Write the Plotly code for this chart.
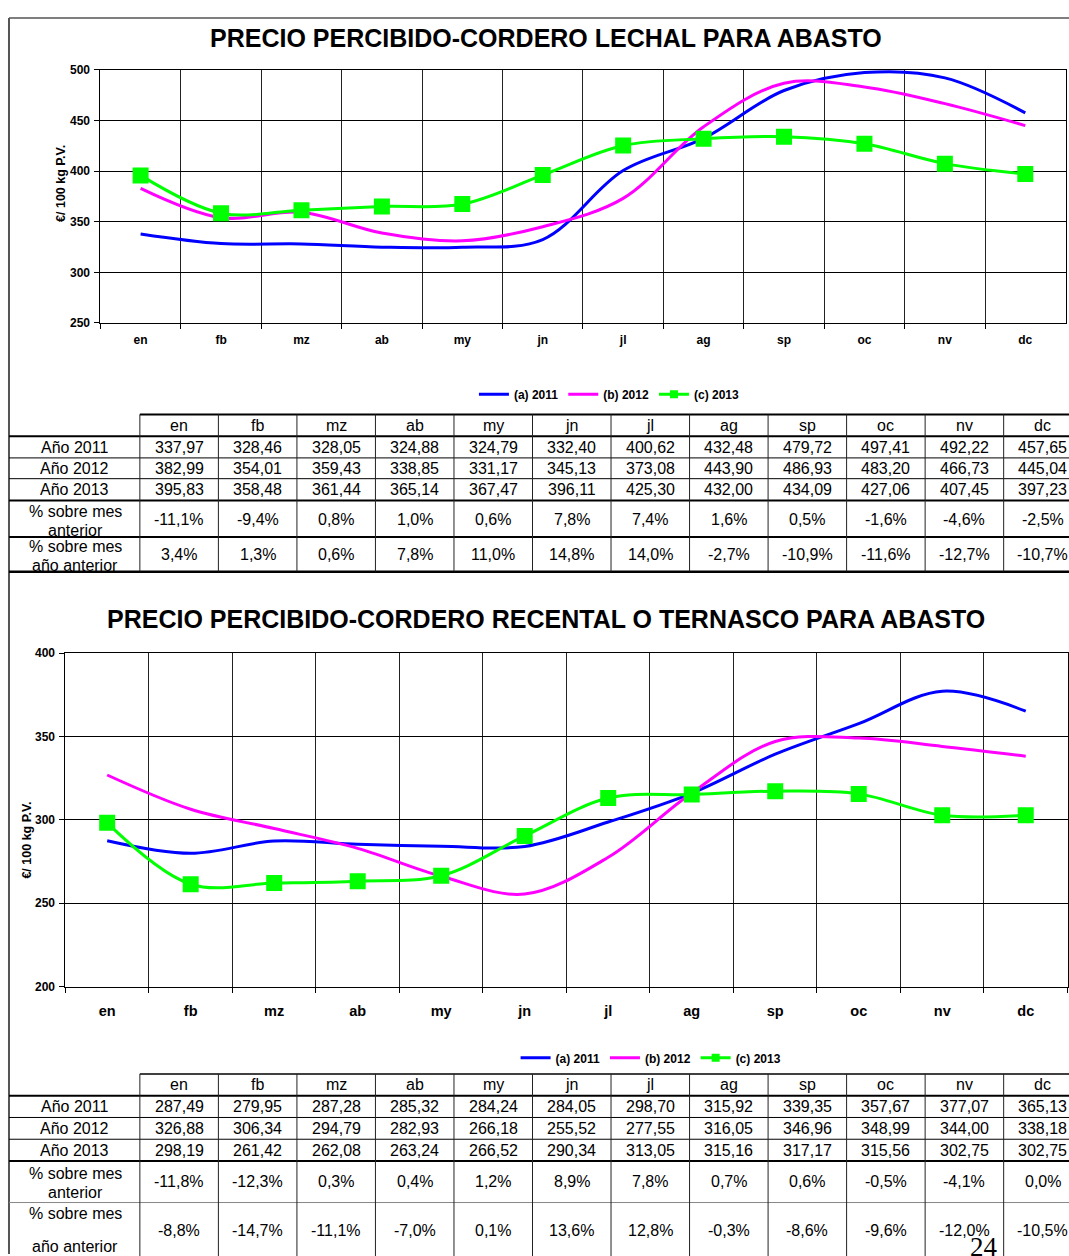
import plotly.graph_objects as go

W, H = 1069, 1256
F = "Liberation Sans, Arial, sans-serif"

# ---------------- data ----------------
months = ["en", "fb", "mz", "ab", "my", "jn", "jl", "ag", "sp", "oc", "nv", "dc"]
series_names = ["(a) 2011", "(b) 2012", "(c) 2013"]
row_labels = ["Año 2011", "Año 2012", "Año 2013"]
pct_label_mes = ["% sobre mes", "anterior"]
pct_label_anio = ["% sobre mes", "año anterior"]

title_lechal = "PRECIO PERCIBIDO-CORDERO LECHAL PARA ABASTO"
title_ternasco = "PRECIO PERCIBIDO-CORDERO RECENTAL O TERNASCO PARA ABASTO"
y_title = "€/ 100 kg P.V."
page_number = "24"

lechal_2011 = [337.97, 328.46, 328.05, 324.88, 324.79, 332.40, 400.62, 432.48, 479.72, 497.41, 492.22, 457.65]
lechal_2012 = [382.99, 354.01, 359.43, 338.85, 331.17, 345.13, 373.08, 443.90, 486.93, 483.20, 466.73, 445.04]
lechal_2013 = [395.83, 358.48, 361.44, 365.14, 367.47, 396.11, 425.30, 432.00, 434.09, 427.06, 407.45, 397.23]
lechal_pct_mes = [-11.1, -9.4, 0.8, 1.0, 0.6, 7.8, 7.4, 1.6, 0.5, -1.6, -4.6, -2.5]
lechal_pct_anio = [3.4, 1.3, 0.6, 7.8, 11.0, 14.8, 14.0, -2.7, -10.9, -11.6, -12.7, -10.7]

ternasco_2011 = [287.49, 279.95, 287.28, 285.32, 284.24, 284.05, 298.70, 315.92, 339.35, 357.67, 377.07, 365.13]
ternasco_2012 = [326.88, 306.34, 294.79, 282.93, 266.18, 255.52, 277.55, 316.05, 346.96, 348.99, 344.00, 338.18]
ternasco_2013 = [298.19, 261.42, 262.08, 263.24, 266.52, 290.34, 313.05, 315.16, 317.17, 315.56, 302.75, 302.75]
ternasco_pct_mes = [-11.8, -12.3, 0.3, 0.4, 1.2, 8.9, 7.8, 0.7, 0.6, -0.5, -4.1, 0.0]
ternasco_pct_anio = [-8.8, -14.7, -11.1, -7.0, 0.1, 13.6, 12.8, -0.3, -8.6, -9.6, -12.0, -10.5]

colors = ["#0000FF", "#FF00FF", "#00FF00"]


# ---------------- helpers ----------------
def fx(px):
    return px / W


def fy(py):
    return 1 - py / H


def fmt_val(v):
    return f"{v:.2f}".replace(".", ",")


def fmt_pct(v):
    return f"{v:.1f}%".replace(".", ",")


shapes = []
annotations = []


def line(x0, y0, x1, y1, w=1.0, c="#000000"):
    shapes.append(dict(type="line", xref="paper", yref="paper",
                       x0=fx(x0), y0=fy(y0), x1=fx(x1), y1=fy(y1),
                       line=dict(color=c, width=w)))


def text(x, y, s, size=16, bold=False, fam=F, angle=0, xanchor="center"):
    annotations.append(dict(xref="paper", yref="paper", x=fx(x), y=fy(y), text=s,
                            showarrow=False, xanchor=xanchor, yanchor="middle",
                            textangle=angle,
                            font=dict(family=fam, size=size, color="#000000",
                                      weight="bold" if bold else "normal")))


fig = go.Figure()

# ---------------- chart traces ----------------
charts = [
    ("x", "y", [lechal_2011, lechal_2012, lechal_2013], "legend"),
    ("x2", "y2", [ternasco_2011, ternasco_2012, ternasco_2013], "legend2"),
]
for xa, ya, series, lg in charts:
    for i, vals in enumerate(series):
        is_mk = i == 2
        fig.add_trace(go.Scatter(
            x=months, y=vals, xaxis=xa, yaxis=ya,
            mode="lines+markers" if is_mk else "lines",
            line=dict(color=colors[i], width=3, shape="spline", smoothing=1),
            marker=dict(symbol="square", size=16, color=colors[i]),
            showlegend=False, hoverinfo="skip"))
    # legend entries (small markers, as in the original legend)
    for i, name in enumerate(series_names):
        is_mk = i == 2
        fig.add_trace(go.Scatter(
            x=[None], y=[None], xaxis=xa, yaxis=ya, name=name, legend=lg,
            mode="lines+markers" if is_mk else "lines",
            line=dict(color=colors[i], width=3),
            marker=dict(symbol="square", size=8, color=colors[i]),
            showlegend=True))


# ---------------- axes ----------------
def xaxis_cfg(x0, x1, fsize, standoff):
    return dict(domain=[fx(x0), fx(x1)], type="category", tickson="boundaries",
                range=[-0.5, len(months) - 0.5], autorange=False,
                categoryorder="array", categoryarray=months,
                ticks="outside", ticklen=5, tickcolor="#000", tickwidth=1,
                showgrid=True, gridcolor="#222222", gridwidth=1,
                showline=True, linecolor="#000", linewidth=1, mirror=True,
                tickfont=dict(family=F, size=fsize, color="#000", weight="bold"),
                ticklabelstandoff=standoff, fixedrange=True)


def yaxis_cfg(y0, y1, rng, fsize):
    return dict(domain=[fy(y1), fy(y0)], range=rng, autorange=False, dtick=50, tick0=0,
                ticks="outside", ticklen=5, tickcolor="#000", tickwidth=1,
                showgrid=True, gridcolor="#000", gridwidth=1, zeroline=False,
                showline=True, linecolor="#000", linewidth=1, mirror=True,
                tickfont=dict(family=F, size=fsize, color="#000", weight="bold"),
                ticklabelstandoff=2, fixedrange=True)


xa1 = xaxis_cfg(100.5, 1066.5, 12, 6)
xa1["anchor"] = "y"
ya1 = yaxis_cfg(63.7, 319.5, [250, 500], 12)
ya1["anchor"] = "x"
xa2 = xaxis_cfg(65.5, 1068.5, 14.5, 11)
xa2["anchor"] = "y2"
ya2 = yaxis_cfg(653.3, 990.7, [200, 400], 12)
ya2["anchor"] = "x2"

# ---------------- titles ----------------
text(546.5, 31, title_lechal, size=25, bold=True)
text(546.5, 619, title_ternasco, size=25, bold=True)
text(61, 178, y_title, size=12.5, bold=True, angle=-90)
text(27, 842, y_title, size=12.5, bold=True, angle=-90)

# ---------------- page frame ----------------
line(9, 11, 9, H + 5, w=2, c="#555555")
line(9, 11, W + 5, 11, w=1.5, c="#555555")

# ---------------- tables ----------------
COL0 = 140.0
COLW = 78.6
LEFT = 9
col_edges = [COL0 + COLW * i for i in range(13)]


def draw_table(ys, hwidths, hcolors, series, pct_mes, pct_anio,
               mes_lines, anio_lines, mes_val_y, anio_val_y):
    for k, y in enumerate(ys):
        x_start = COL0 if k == 0 else LEFT
        line(x_start, y, W + 20, y, w=hwidths[k], c=hcolors[k])
    for xe in col_edges:
        line(xe, ys[0], xe, ys[-1], w=1, c="#222222")
    hy = (ys[0] + ys[1]) / 2
    for j, m in enumerate(months):
        text((col_edges[j] + col_edges[j + 1]) / 2, hy, m)
    for r, vals in enumerate(series):
        cy = (ys[r + 1] + ys[r + 2]) / 2
        text((LEFT + COL0) / 2, cy, row_labels[r])
        for j, v in enumerate(vals):
            text((col_edges[j] + col_edges[j + 1]) / 2, cy, fmt_val(v))
    for lbl, ly in zip(pct_label_mes, mes_lines):
        text((LEFT + COL0) / 2 + 1, ly, lbl)
    for lbl, ly in zip(pct_label_anio, anio_lines):
        text((LEFT + COL0) / 2 + 1, ly, lbl)
    for j, v in enumerate(pct_mes):
        text((col_edges[j] + col_edges[j + 1]) / 2, mes_val_y, fmt_pct(v))
    for j, v in enumerate(pct_anio):
        text((col_edges[j] + col_edges[j + 1]) / 2, anio_val_y, fmt_pct(v))


draw_table([412, 434, 456, 477, 499, 536, 571],
           [2, 2, 1, 1, 2, 2, 2.5],
           ["#000"] * 7,
           [lechal_2011, lechal_2012, lechal_2013], lechal_pct_mes, lechal_pct_anio,
           [510, 529], [546, 565], 518, 554)

draw_table([1079, 1101, 1123, 1145, 1167, 1209, 1266],
           [1.5, 2, 1, 1, 2, 1, 1],
           ["#000", "#000", "#000", "#000", "#000", "#888888", "#000"],
           [ternasco_2011, ternasco_2012, ternasco_2013], ternasco_pct_mes, ternasco_pct_anio,
           [1180, 1199], [1220, 1253], 1188, 1237)

# page number
text(985, 1254, page_number, size=27, fam="Liberation Serif, Times New Roman, serif")

legend_common = dict(orientation="h", xanchor="center", yanchor="middle",
                     font=dict(family=F, size=12, color="#000", weight="bold"),
                     bgcolor="rgba(0,0,0,0)", borderwidth=0, itemwidth=30,
                     traceorder="normal", itemclick=False, itemdoubleclick=False)

fig.update_layout(
    width=W, height=H, autosize=False,
    margin=dict(l=0, r=0, t=0, b=0, pad=0),
    paper_bgcolor="white", plot_bgcolor="white",
    font=dict(family=F, color="#000"),
    xaxis=xa1, yaxis=ya1, xaxis2=xa2, yaxis2=ya2,
    legend=dict(x=fx(610), y=fy(391.7), **legend_common),
    legend2=dict(x=fx(651.7), y=fy(1062.7), **legend_common),
    shapes=shapes, annotations=annotations,
    showlegend=True,
)

fig.write_html(
    "out.html",
    config={"displayModeBar": False},
    post_script=(
        "document.documentElement.style.margin='0px';"
        "document.documentElement.style.overflow='hidden';"
        "document.body.style.margin='0px';"
        "document.body.style.padding='0px';"
        "document.body.style.overflow='hidden';"
        "var gd=document.getElementById('{plot_id}');"
        "gd.style.position='absolute';gd.style.left='0px';gd.style.top='0px';"
    ),
)
